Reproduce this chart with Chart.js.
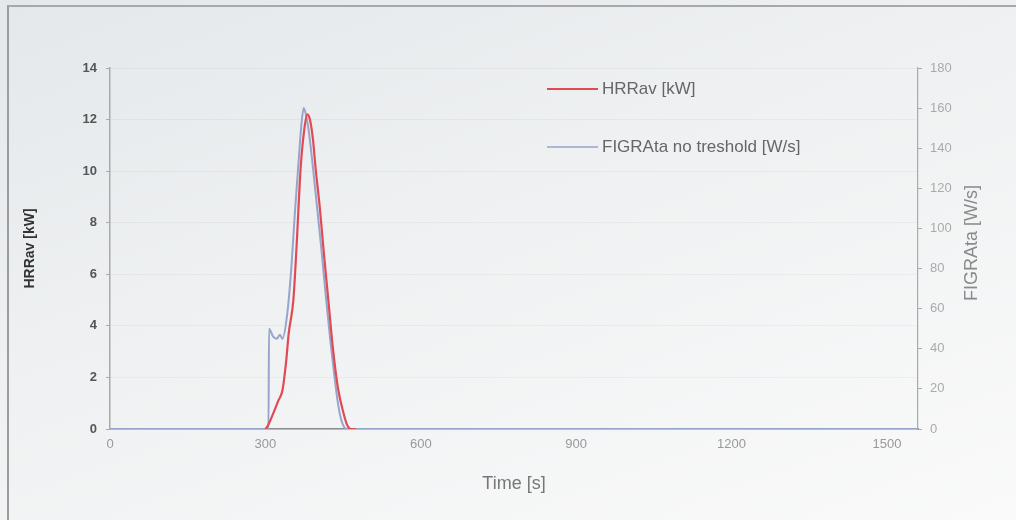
<!DOCTYPE html>
<html>
<head>
<meta charset="utf-8">
<script src="https://cdn.jsdelivr.net/npm/chart.js@4.4.1/dist/chart.umd.min.js"></script>
<style>
  html, body { margin: 0; padding: 0; }
  body {
    width: 1016px; height: 520px; overflow: hidden; position: relative;
    background: linear-gradient(160deg, #e4e8eb 0%, #eef0f1 40%, #fafafa 100%);
    font-family: "Liberation Sans", Arial, sans-serif;
  }
  #frame {
    position: absolute; left: 7px; top: 5px; right: 0; bottom: 0;
    border-left: 2px solid #9c9c9c; border-top: 2px solid #a8a8a8;
  }
  #grafico { position: absolute; left: 0; top: 0; }
</style>
</head>
<body>
<div id="frame"></div>
<canvas id="grafico" width="1016" height="520"></canvas>
<script>
// Dados
const tempoHRR = [300, 304, 313, 325, 333, 340, 345, 354, 360, 368, 375, 381, 386, 392, 397, 405, 413, 422, 430, 440, 451, 458, 465, 475];
const valoresHRR = [0, 0.1, 0.5, 1.1, 1.5, 2.6, 3.7, 5.0, 7.0, 10.1, 11.6, 12.2, 12.0, 11.2, 10.1, 8.6, 6.8, 4.9, 3.2, 1.6, 0.6, 0.15, 0, 0];

const tempoFIGRA = [0, 306, 307, 315, 322, 328, 333, 342, 350, 357, 364, 370, 374, 378, 384, 392, 400, 408, 416, 425, 433, 440, 446, 452, 458, 1560];
const valoresFIGRA = [0, 0, 50, 46, 45, 47, 45, 57, 80, 108, 133, 153, 160, 157, 148, 130, 110, 90, 68, 45, 27, 13, 5, 1, 0, 0];

const ticksTempo = [0, 300, 600, 900, 1200, 1500];

const rotulos = ['HRRav [kW]', 'FIGRAta no treshold [W/s]'];
const cores = ['#e04a55', '#96a5cb'];

const fonte = '"Liberation Sans", Arial, sans-serif';

// Legenda desenhada dentro da área do gráfico
const legendaInterna = {
  id: 'legendaInterna',
  afterDatasetsDraw(chart) {
    const ctx = chart.ctx;
    const linhasY = [89, 147];
    ctx.save();
    chart.data.datasets.forEach((ds, i) => {
      const y = linhasY[i];
      ctx.strokeStyle = ds.borderColor;
      ctx.lineWidth = i === 0 ? 2 : 1.5;
      ctx.beginPath();
      ctx.moveTo(547, y);
      ctx.lineTo(598, y);
      ctx.stroke();
      ctx.fillStyle = '#666';
      ctx.font = '17px ' + fonte;
      ctx.textBaseline = 'middle';
      ctx.textAlign = 'left';
      ctx.fillText(ds.label, 602, y);
    });
    // título do eixo direito (lido de baixo para cima)
    ctx.translate(972, 243);
    ctx.rotate(-Math.PI / 2);
    ctx.fillStyle = '#8a8a8a';
    ctx.font = '18px ' + fonte;
    ctx.textAlign = 'center';
    ctx.textBaseline = 'middle';
    ctx.fillText('FIGRAta [W/s]', 0, 0);
    ctx.restore();
  }
};

const grafico = new Chart(document.getElementById('grafico'), {
  type: 'line',
  data: {
    datasets: [
      {
        label: rotulos[0],
        data: tempoHRR.map((t, i) => ({ x: t, y: valoresHRR[i] })),
        borderColor: cores[0],
        borderWidth: 2.2,
        pointRadius: 0,
        cubicInterpolationMode: 'monotone',
        yAxisID: 'y'
      },
      {
        label: rotulos[1],
        data: tempoFIGRA.map((t, i) => ({ x: t, y: valoresFIGRA[i] })),
        borderColor: cores[1],
        borderWidth: 2,
        pointRadius: 0,
        cubicInterpolationMode: 'monotone',
        yAxisID: 'y2'
      }
    ]
  },
  options: {
    responsive: false,
    animation: false,
    layout: { padding: { top: 68, left: 0, right: 0, bottom: 0 } },
    plugins: { legend: { display: false }, tooltip: { enabled: false } },
    scales: {
      x: {
        type: 'linear',
        min: 0,
        max: 1560,
        afterBuildTicks: s => { s.ticks = ticksTempo.map(v => ({ value: v })); },
        afterFit: s => { s.height = 91; },
        grid: { display: false, drawTicks: false },
        border: { color: '#8c8c8c', width: 1.5 },
        ticks: { color: '#999', font: { family: fonte, size: 13 }, padding: 8, maxRotation: 0, callback: v => String(v) },
        title: { display: true, text: 'Time [s]', color: '#777', font: { family: fonte, size: 18 }, padding: { top: 0, bottom: 25 } }
      },
      y: {
        position: 'left',
        min: 0,
        max: 14,
        afterFit: s => { s.width = 110; },
        ticks: { stepSize: 2, color: '#555', font: { family: fonte, size: 13, weight: 'bold' }, padding: 9 },
        grid: { color: 'rgba(0,0,0,0.035)', tickColor: '#aaa', tickLength: 4 },
        border: { color: '#aaa', width: 1.5 },
        title: { display: true, text: 'HRRav [kW]', color: '#333', font: { family: fonte, size: 14, weight: 'bold' }, padding: { top: 22, bottom: 0 } }
      },
      y2: {
        position: 'right',
        min: 0,
        max: 180,
        afterFit: s => { s.width = 98; },
        ticks: { stepSize: 20, color: '#aaa', font: { family: fonte, size: 13 }, padding: 8 },
        grid: { drawOnChartArea: false, tickColor: '#aaa', tickLength: 4 },
        border: { color: '#aaa', width: 1.2 }
      }
    }
  },
  plugins: [legendaInterna]
});
</script>
</body>
</html>
